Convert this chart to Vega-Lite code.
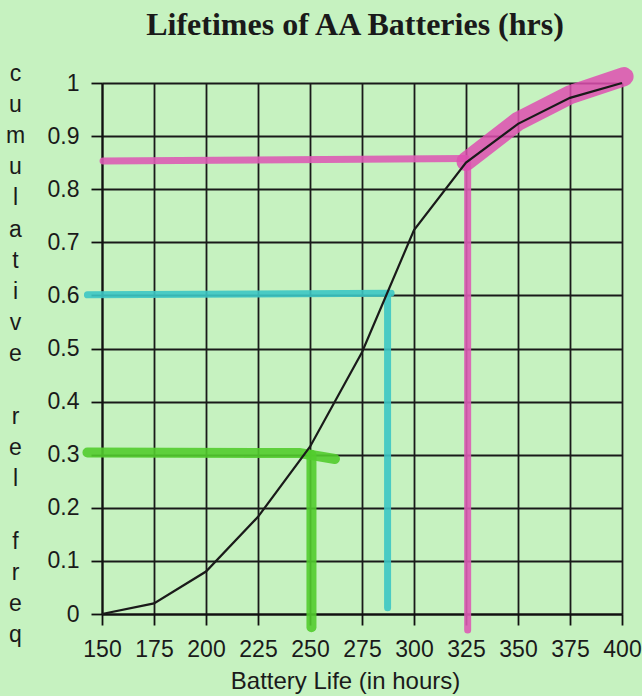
{
  "$schema": "https://vega.github.io/schema/vega-lite/v6.json",
  "autosize": "none",
  "width": 520,
  "height": 531,
  "padding": {"left": 102, "top": 83, "right": 20, "bottom": 82},
  "background": "#c6f2c0",
  "title": {
    "text": "Lifetimes of AA Batteries (hrs)",
    "font": "Liberation Serif",
    "fontSize": 32,
    "fontWeight": "bold",
    "color": "#1a1a1a",
    "frame": "group",
    "baseline": "alphabetic",
    "offset": -28,
    "dx": -7
  },
  "config": {
    "view": {"stroke": null},
    "axis": {
      "domainColor": "#111",
      "domainWidth": 2,
      "gridColor": "#1a1a1a",
      "gridWidth": 1.8,
      "gridOpacity": 1,
      "tickColor": "#111",
      "tickWidth": 1.8,
      "tickSize": 11,
      "labelFont": "Liberation Sans",
      "labelFontSize": 23,
      "labelColor": "#1a1a1a",
      "titleFont": "Liberation Sans",
      "titleFontWeight": "normal",
      "titleColor": "#1a1a1a"
    }
  },
  "datasets": {
    "curve": [
      {"life": 150, "crf": 0.0},
      {"life": 175, "crf": 0.02},
      {"life": 200, "crf": 0.08},
      {"life": 225, "crf": 0.183},
      {"life": 250, "crf": 0.315},
      {"life": 275, "crf": 0.493},
      {"life": 300, "crf": 0.723},
      {"life": 325, "crf": 0.85},
      {"life": 350, "crf": 0.923},
      {"life": 375, "crf": 0.972},
      {"life": 400, "crf": 1.0}
    ],
    "marks": [
      {"pen": "green", "seg": "g1", "life": 143, "crf": 0.304},
      {"pen": "green", "seg": "g1", "life": 245, "crf": 0.303},
      {"pen": "green", "seg": "g1", "life": 262, "crf": 0.292},
      {"pen": "green", "seg": "g2", "life": 250.7, "crf": 0.3},
      {"pen": "green", "seg": "g2", "life": 250.7, "crf": -0.025},
      {"pen": "cyan", "seg": "c1", "life": 143, "crf": 0.601},
      {"pen": "cyan", "seg": "c1", "life": 289, "crf": 0.604},
      {"pen": "cyan", "seg": "c2", "life": 287.3, "crf": 0.6},
      {"pen": "cyan", "seg": "c2", "life": 287.3, "crf": 0.012},
      {"pen": "pink", "seg": "p1", "life": 150.5, "crf": 0.853},
      {"pen": "pink", "seg": "p1", "life": 325, "crf": 0.858},
      {"pen": "pink", "seg": "p2", "life": 325.8, "crf": 0.85},
      {"pen": "pink", "seg": "p2", "life": 325.8, "crf": -0.03},
      {"pen": "pinkwide", "seg": "p3", "life": 325, "crf": 0.852},
      {"pen": "pinkwide", "seg": "p3", "life": 350, "crf": 0.928},
      {"pen": "pinkwide", "seg": "p3", "life": 375, "crf": 0.978},
      {"pen": "pinkwide", "seg": "p3", "life": 401, "crf": 1.012}
    ]
  },
  "encoding": {
    "x": {
      "field": "life",
      "type": "quantitative",
      "scale": {"domain": [150, 400], "nice": false, "zero": false},
      "axis": {
        "values": [150, 175, 200, 225, 250, 275, 300, 325, 350, 375, 400],
        "title": "Battery Life (in hours)",
        "titleFontSize": 24,
        "titleX": 243,
        "labelPadding": 13,
        "titlePadding": 8,
        "labelFlush": false,
        "labelOverlap": false
      }
    },
    "y": {
      "field": "crf",
      "type": "quantitative",
      "scale": {"domain": [0, 1], "nice": false},
      "axis": {
        "values": [0, 0.1, 0.2, 0.3, 0.4, 0.5, 0.6, 0.7, 0.8, 0.9, 1],
        "format": "~g",
        "labelPadding": 12,
        "labelFlush": false,
        "labelOverlap": false,
        "title": ["c", "u", "m", "u", "l", "a", "t", "i", "v", "e", "\u2800", "r", "e", "l", "\u2800", "f", "r", "e", "q"],
        "titleAngle": 0,
        "titleFontSize": 23,
        "titleLineHeight": 31.2,
        "titleAlign": "center",
        "titleBaseline": "top",
        "titleX": -87,
        "titleY": -21
      }
    }
  },
  "layer": [
    {
      "data": {"name": "marks"},
      "transform": [{"filter": "datum.pen === 'green'"}],
      "mark": {"type": "line", "stroke": "#52cc2e", "strokeWidth": 10, "strokeCap": "round", "opacity": 0.9},
      "encoding": {"detail": {"field": "seg"}}
    },
    {
      "data": {"name": "marks"},
      "transform": [{"filter": "datum.pen === 'cyan'"}],
      "mark": {"type": "line", "stroke": "#3cc6c4", "strokeWidth": 7, "strokeCap": "round", "opacity": 0.9},
      "encoding": {"detail": {"field": "seg"}}
    },
    {
      "data": {"name": "marks"},
      "transform": [{"filter": "datum.pen === 'pink'"}],
      "mark": {"type": "line", "stroke": "#dc5cb4", "strokeWidth": 7, "strokeCap": "round", "opacity": 0.9},
      "encoding": {"detail": {"field": "seg"}}
    },
    {
      "data": {"name": "marks"},
      "transform": [{"filter": "datum.pen === 'pinkwide'"}],
      "mark": {"type": "line", "stroke": "#de4fb0", "strokeWidth": 19, "strokeCap": "round", "opacity": 0.85},
      "encoding": {"detail": {"field": "seg"}}
    },
    {
      "data": {"name": "curve"},
      "mark": {"type": "line", "stroke": "#1a1a1a", "strokeWidth": 2.2}
    }
  ]
}
